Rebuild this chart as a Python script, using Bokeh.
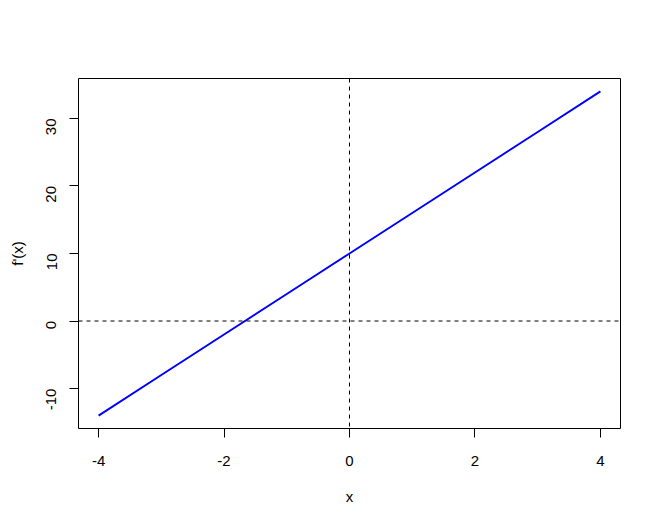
from bokeh.plotting import figure
from bokeh.models import Range1d, FixedTicker, Span
from bokeh.embed import file_html
from bokeh.resources import INLINE
import math

# data: f'(x) = 6x + 10
x_vals = [-4, -3, -2, -1, 0, 1, 2, 3, 4]
y_vals = [-14, -8, -2, 4, 10, 16, 22, 28, 34]
x_ticks = [-4, -2, 0, 2, 4]
y_ticks = [-10, 0, 10, 20, 30]

def padded(vals, frac=0.04):
    lo, hi = min(vals), max(vals)
    d = (hi - lo) * frac
    return lo - d, hi + d

xlo, xhi = padded(x_vals)
ylo, yhi = padded(y_vals)

p = figure(width=645, height=511, output_backend="svg", toolbar_location=None,
           x_range=Range1d(xlo, xhi), y_range=Range1d(ylo, yhi),
           min_border_left=78, min_border_right=25, min_border_top=78, min_border_bottom=83)
p.grid.visible = False
p.outline_line_color = "black"
p.outline_line_width = 1
p.background_fill_color = "white"
p.border_fill_color = "white"

FONT = "Liberation Sans"
for ax in (p.xaxis[0], p.yaxis[0]):
    ax.axis_line_color = None
    ax.major_tick_out = 9
    ax.major_tick_in = 0
    ax.major_tick_line_color = "black"
    ax.minor_tick_line_color = None
    ax.major_label_text_font = FONT
    ax.major_label_text_font_size = "15px"
    ax.major_label_text_color = "black"
    ax.axis_label_text_font = FONT
    ax.axis_label_text_font_size = "15px"
    ax.axis_label_text_font_style = "normal"
    ax.axis_label_text_color = "black"

p.xaxis.ticker = FixedTicker(ticks=x_ticks)
p.yaxis.ticker = FixedTicker(ticks=y_ticks)
p.xaxis.major_label_overrides = {t: str(t) for t in x_ticks}
p.yaxis.major_label_overrides = {t: str(t) for t in y_ticks}
p.xaxis.axis_label = "x"
p.yaxis.axis_label = "f'(x)"
p.xaxis.major_label_standoff = 18
p.xaxis.axis_label_standoff = 19
p.yaxis.major_label_orientation = math.pi / 2
p.yaxis.major_label_standoff = 18
p.yaxis.axis_label_standoff = 13

p.add_layout(Span(location=0, dimension="width", line_color="black", line_width=1, line_dash="4 4"))
p.add_layout(Span(location=0, dimension="height", line_color="black", line_width=1, line_dash="4 4"))

p.line(x_vals, y_vals, line_color="#0000FF", line_width=2)

open("out.html", "w").write(file_html(p, INLINE))
